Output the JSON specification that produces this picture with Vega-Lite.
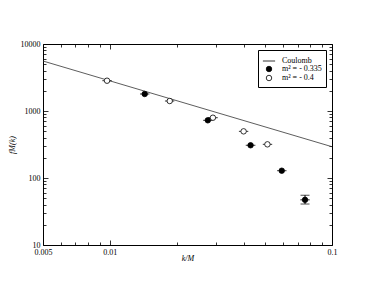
{
  "$schema": "https://vega.github.io/schema/vega-lite/v6.json",
  "width": 289,
  "height": 201,
  "autosize": "none",
  "padding": {"left": 43, "top": 44, "right": 42, "bottom": 44},
  "background": "white",
  "config": {
    "view": {"stroke": null},
    "font": "Liberation Serif",
    "axis": {
      "labelFont": "Liberation Serif",
      "labelFontSize": 8,
      "labelColor": "black",
      "titleFont": "Liberation Serif",
      "titleFontSize": 8,
      "titleFontWeight": "normal",
      "titleFontStyle": "italic",
      "titleColor": "black",
      "domainColor": "black",
      "domainWidth": 1,
      "tickColor": "black",
      "tickWidth": 0.8,
      "grid": false,
      "labelOverlap": false,
      "labelFlush": false
    },
    "legend": {
      "orient": "top-right",
      "offset": 6,
      "strokeColor": "black",
      "padding": 4,
      "labelFont": "Liberation Serif",
      "labelFontSize": 8,
      "labelColor": "black",
      "rowPadding": -3,
      "labelOffset": 6,
      "symbolStrokeWidth": 0.8,
      "symbolStrokeColor": "black"
    }
  },
  "datasets": {
    "coulomb": [
      {"k": 0.005, "f": 5570},
      {"k": 0.1, "f": 293}
    ],
    "pts": [
      {"series": "m² = - 0.335", "k": 0.01435, "f": 1794, "klo": 0.01367, "khi": 0.01507},
      {"series": "m² = - 0.335", "k": 0.0276, "f": 726, "klo": 0.0263, "khi": 0.0290},
      {"series": "m² = - 0.335", "k": 0.0430, "f": 308, "klo": 0.0409, "khi": 0.0452},
      {"series": "m² = - 0.335", "k": 0.0594, "f": 128.5, "klo": 0.0566, "khi": 0.0624},
      {"series": "m² = - 0.335", "k": 0.0756, "f": 47.2, "klo": 0.0720, "khi": 0.0794},
      {"series": "m² = - 0.4", "k": 0.00971, "f": 2832, "klo": 0.00925, "khi": 0.0102},
      {"series": "m² = - 0.4", "k": 0.0186, "f": 1410, "klo": 0.0177, "khi": 0.0195},
      {"series": "m² = - 0.4", "k": 0.0291, "f": 794, "klo": 0.0277, "khi": 0.0306},
      {"series": "m² = - 0.4", "k": 0.0400, "f": 497, "klo": 0.0381, "khi": 0.0420},
      {"series": "m² = - 0.4", "k": 0.0512, "f": 318, "klo": 0.0488, "khi": 0.0538}
    ],
    "yerr": [
      {"k": 0.0756, "flo": 40.9, "fhi": 55.3}
    ]
  },
  "layer": [
    {
      "layer": [
        {
          "data": {"name": "coulomb"},
          "mark": {"type": "line", "color": "#333333", "strokeWidth": 0.8},
          "encoding": {
            "x": {
              "field": "k", "type": "quantitative", "title": "k/M",
              "scale": {"type": "log", "domain": [0.005, 0.1], "nice": false},
              "axis": {
                "orient": "bottom",
                "title": "k/M",
                "titlePadding": -4,
                "values": [0.005, 0.006, 0.007, 0.008, 0.009, 0.01, 0.02, 0.03, 0.04, 0.05, 0.06, 0.07, 0.08, 0.09, 0.1],
                "labelExpr": "datum.value == 0.005 ? '0.005' : datum.value == 0.01 ? '0.01' : datum.value == 0.1 ? '0.1' : ''",
                "tickSize": {"condition": {"test": "datum.value == 0.005 || datum.value == 0.01 || datum.value == 0.1", "value": -5}, "value": -3},
                "labelPadding": 8
              }
            },
            "y": {
              "field": "f", "type": "quantitative", "title": "fM(k)",
              "scale": {"type": "log", "domain": [10, 10000], "nice": false},
              "axis": {
                "orient": "left",
                "title": "fM(k)",
                "titlePadding": 4,
                "values": [10, 20, 30, 40, 50, 60, 70, 80, 90, 100, 200, 300, 400, 500, 600, 700, 800, 900, 1000, 2000, 3000, 4000, 5000, 6000, 7000, 8000, 9000, 10000],
                "labelExpr": "datum.value == 10 || datum.value == 100 || datum.value == 1000 || datum.value == 10000 ? format(datum.value, 'd') : ''",
                "tickSize": {"condition": {"test": "datum.value == 10 || datum.value == 100 || datum.value == 1000 || datum.value == 10000", "value": -5}, "value": -3},
                "labelPadding": 8
              }
            }
          }
        },
        {
          "data": {"name": "pts"},
          "mark": {"type": "rule", "color": "black", "strokeWidth": 0.8},
          "encoding": {
            "x": {"field": "klo", "type": "quantitative", "title": "k/M"},
            "x2": {"field": "khi"},
            "y": {"field": "f", "type": "quantitative", "title": "fM(k)"}
          }
        },
        {
          "data": {"name": "yerr"},
          "mark": {"type": "errorbar", "ticks": {"size": 9, "color": "black", "strokeWidth": 0.8}, "color": "black", "strokeWidth": 0.8},
          "encoding": {
            "x": {"field": "k", "type": "quantitative", "title": "k/M"},
            "y": {"field": "flo", "type": "quantitative", "title": "fM(k)"},
            "y2": {"field": "fhi"}
          }
        },
        {
          "data": {"name": "pts"},
          "mark": {"type": "point", "strokeWidth": 0.8, "opacity": 1},
          "encoding": {
            "x": {"field": "k", "type": "quantitative", "title": "k/M"},
            "y": {"field": "f", "type": "quantitative", "title": "fM(k)"},
            "shape": {
              "field": "series", "type": "nominal",
              "scale": {"domain": ["Coulomb", "m² = - 0.335", "m² = - 0.4"], "range": ["stroke", "circle", "circle"]},
              "legend": {"title": null}
            },
            "fill": {
              "field": "series", "type": "nominal",
              "scale": {"domain": ["Coulomb", "m² = - 0.335", "m² = - 0.4"], "range": ["black", "black", "white"]},
              "legend": {"title": null}
            },
            "stroke": {
              "field": "series", "type": "nominal",
              "scale": {"domain": ["Coulomb", "m² = - 0.335", "m² = - 0.4"], "range": ["black", "black", "black"]},
              "legend": {"title": null}
            },
            "size": {
              "field": "series", "type": "nominal",
              "scale": {"type": "ordinal", "domain": ["Coulomb", "m² = - 0.335", "m² = - 0.4"], "range": [150, 30, 30]},
              "legend": {"title": null}
            }
          }
        }
      ]
    },
    {
      "data": {"name": "coulomb"},
      "mark": {"type": "point", "opacity": 0},
      "encoding": {
        "x": {
          "field": "k", "type": "quantitative",
          "scale": {"type": "log", "domain": [0.005, 0.1], "nice": false},
          "axis": {
            "orient": "top", "title": null, "labels": false,
            "values": [0.005, 0.006, 0.007, 0.008, 0.009, 0.01, 0.02, 0.03, 0.04, 0.05, 0.06, 0.07, 0.08, 0.09, 0.1],
            "tickSize": {"condition": {"test": "datum.value == 0.005 || datum.value == 0.01 || datum.value == 0.1", "value": -5}, "value": -3}
          }
        },
        "y": {
          "field": "f", "type": "quantitative",
          "scale": {"type": "log", "domain": [10, 10000], "nice": false},
          "axis": {
            "orient": "right", "title": null, "labels": false,
            "values": [10, 20, 30, 40, 50, 60, 70, 80, 90, 100, 200, 300, 400, 500, 600, 700, 800, 900, 1000, 2000, 3000, 4000, 5000, 6000, 7000, 8000, 9000, 10000],
            "tickSize": {"condition": {"test": "datum.value == 10 || datum.value == 100 || datum.value == 1000 || datum.value == 10000", "value": -5}, "value": -3}
          }
        }
      }
    }
  ],
  "resolve": {"scale": {"x": "independent", "y": "independent"}, "axis": {"x": "independent", "y": "independent"}}
}
